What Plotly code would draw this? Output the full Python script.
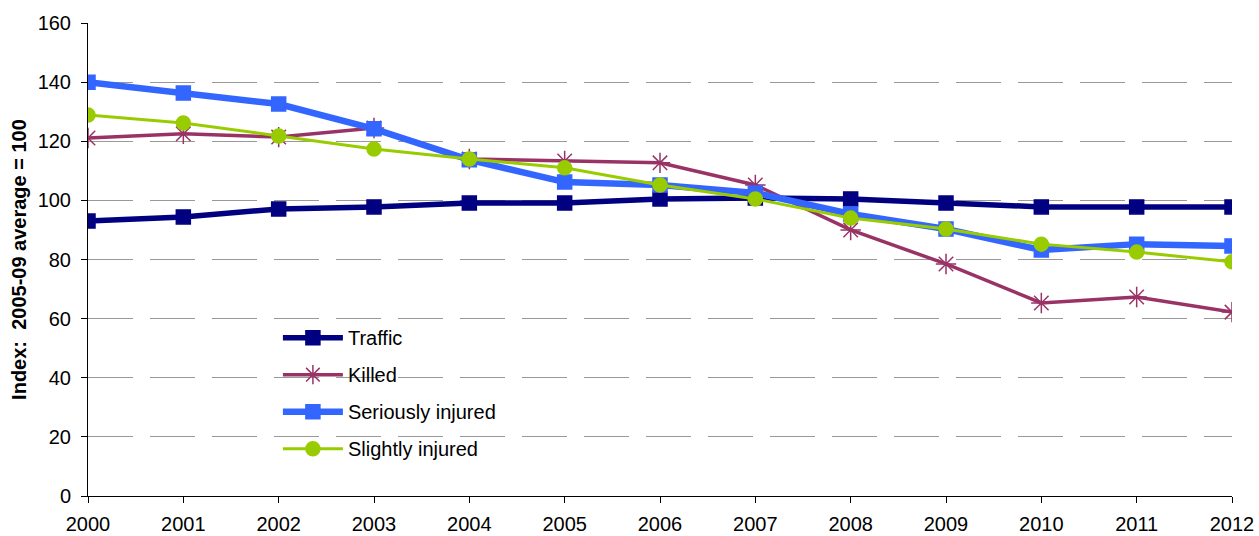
import plotly.graph_objects as go

years = list(range(2000, 2013))
traffic = [93.0, 94.4, 97.1, 97.8, 99.1, 99.1, 100.5, 100.8, 100.5, 99.1, 97.8, 97.8, 97.8]
killed = [121.1, 122.5, 121.4, 124.5, 114.0, 113.3, 112.7, 105.2, 90.0, 78.5, 65.3, 67.3, 62.2]
seriously = [140.0, 136.3, 132.6, 124.2, 113.7, 106.2, 105.2, 102.5, 95.4, 90.3, 83.2, 85.2, 84.6]
slightly = [128.9, 126.2, 121.8, 117.4, 114.0, 111.0, 105.2, 100.5, 94.0, 90.3, 85.2, 82.5, 79.2]

series = [
    ("Traffic", traffic, "#000080", 5.5, "square", 14),
    ("Killed", killed, "#993366", 3.5, "asterisk-open", 17),
    ("Seriously injured", seriously, "#3366FF", 6.5, "square", 14),
    ("Slightly injured", slightly, "#99CC00", 3, "circle", 14),
]

fig = go.Figure()
for name, vals, color, width, symbol, size in series:
    fig.add_trace(go.Scatter(
        x=years, y=vals, name=name, mode="lines+markers",
        legendgroup=name,
        line=dict(color=color, width=width),
        marker=dict(symbol=symbol, size=size, color=color,
                    line=dict(color=color, width=1.5)),
    ))

font = dict(family="Liberation Sans, Arial, sans-serif", size=20, color="#000000")

fig.update_layout(
    width=1259, height=536,
    margin=dict(l=88, r=27, t=23, b=40),
    paper_bgcolor="white", plot_bgcolor="white",
    font=font,
    showlegend=True,
    legend=dict(x=0.166, y=0.376, xanchor="left", yanchor="top",
                bgcolor="rgba(0,0,0,0)", traceorder="grouped",
                tracegroupgap=8, itemwidth=60, font=dict(size=20)),
    xaxis=dict(
        range=[2000, 2012], tickmode="array", tickvals=years,
        ticktext=[str(y) for y in years],
        showline=True, linecolor="#000000", linewidth=1,
        ticks="outside", ticklen=6, tickcolor="#000000",
        ticklabelstandoff=4,
        showgrid=False, zeroline=False, automargin=False,
    ),
    yaxis=dict(
        range=[0, 160], dtick=20,
        showline=True, linecolor="#000000", linewidth=1,
        ticks="outside", ticklen=6, tickcolor="#000000",
        ticklabelstandoff=6,
        showgrid=True, gridcolor="#999999", gridwidth=1,
        griddash="45px,17px", zeroline=False, automargin=False,
        title=dict(text="<b>Index:  2005-09 average = 100</b>",
                   font=dict(size=20), standoff=5),
    ),
)

fig.write_html("out.html")
